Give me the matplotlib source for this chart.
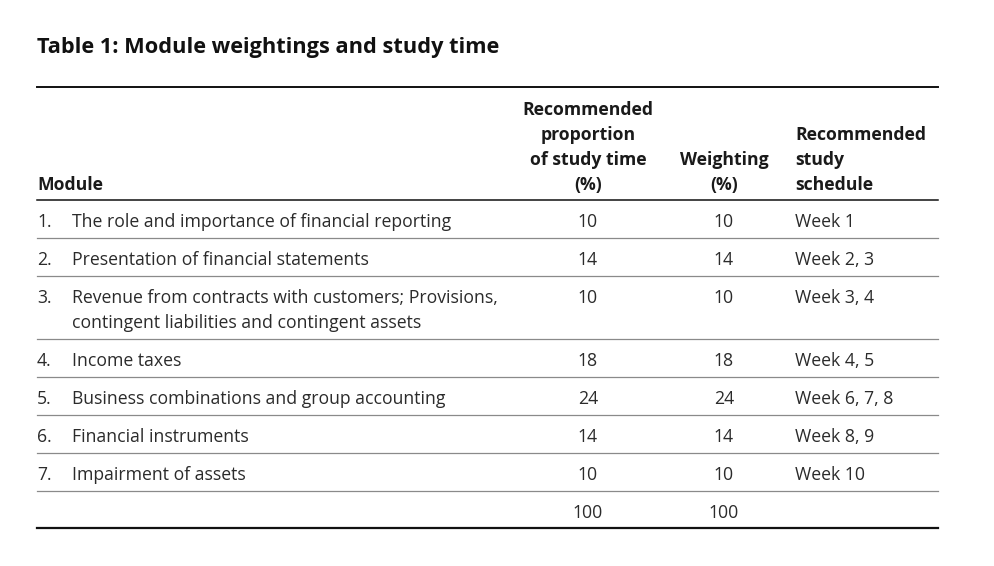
import matplotlib
matplotlib.use("Agg")
import matplotlib.pyplot as plt

plt.rcParams["font.family"] = ["Open Sans", "DejaVu Sans"]

TITLE = "Table 1: Module weightings and study time"
modules = [
    ["The role and importance of financial reporting"],
    ["Presentation of financial statements"],
    ["Revenue from contracts with customers; Provisions,",
     "contingent liabilities and contingent assets"],
    ["Income taxes"],
    ["Business combinations and group accounting"],
    ["Financial instruments"],
    ["Impairment of assets"],
]
study_time = [10, 14, 10, 18, 24, 14, 10]
weighting = [10, 14, 10, 18, 24, 14, 10]
schedule = ["Week 1", "Week 2, 3", "Week 3, 4", "Week 4, 5",
            "Week 6, 7, 8", "Week 8, 9", "Week 10"]
head_time = ["Recommended", "proportion", "of study time", "(%)"]
head_weight = ["Weighting", "(%)"]
head_sched = ["Recommended", "study", "schedule"]

W, H = 994, 566
TXT = "#2b2b2b"
FS = 12.7
LEFT, RIGHT = 37, 938
X_NUM, X_MOD = 37, 72
X_TIME, X_WEIGHT, X_SCHED = 588, 724, 795
LINE_H = 25

fig = plt.figure(figsize=(W / 100, H / 100), dpi=100)
ax = fig.add_axes([0, 0, 1, 1])
ax.set_xlim(0, W)
ax.set_ylim(H, 0)
ax.axis("off")

ax.text(LEFT, 48, TITLE, fontsize=15.7, fontweight="bold", color="#111111",
        va="center", ha="left")

ax.plot([LEFT, RIGHT], [87, 87], color="#111111", lw=1.4)

# header, bottom-aligned
hb = 185
def head(lines, x, ha):
    n = len(lines)
    for k, s in enumerate(lines):
        ax.text(x, hb - (n - 1 - k) * LINE_H, s, fontsize=FS, fontweight="bold",
                color="#1a1a1a", ha=ha, va="center")

head(["Module"], LEFT, "left")
head(head_time, X_TIME, "center")
head(head_weight, X_WEIGHT, "center")
head(head_sched, X_SCHED, "left")

top = 200
ax.plot([LEFT, RIGHT], [top, top], color="#111111", lw=1.1)
for i, lines in enumerate(modules):
    y0 = top + 22
    ax.text(X_NUM, y0, f"{i + 1}.", fontsize=FS, color=TXT, va="center")
    for k, s in enumerate(lines):
        ax.text(X_MOD, y0 + k * LINE_H, s, fontsize=FS, color=TXT, va="center")
    ax.text(X_TIME, y0, str(study_time[i]), fontsize=FS, color=TXT,
            ha="center", va="center")
    ax.text(X_WEIGHT, y0, str(weighting[i]), fontsize=FS, color=TXT,
            ha="center", va="center")
    ax.text(X_SCHED, y0, schedule[i], fontsize=FS, color=TXT, va="center")
    top += 38 + (len(lines) - 1) * LINE_H
    ax.plot([LEFT, RIGHT], [top, top], color="#8a8a8a", lw=0.9)

y0 = top + 22
ax.text(X_TIME, y0, str(sum(study_time)), fontsize=FS, color=TXT,
        ha="center", va="center")
ax.text(X_WEIGHT, y0, str(sum(weighting)), fontsize=FS, color=TXT,
        ha="center", va="center")
top += 37
ax.plot([LEFT, RIGHT], [top, top], color="#111111", lw=1.6)

fig.savefig("out.png", dpi=100, facecolor="white")
